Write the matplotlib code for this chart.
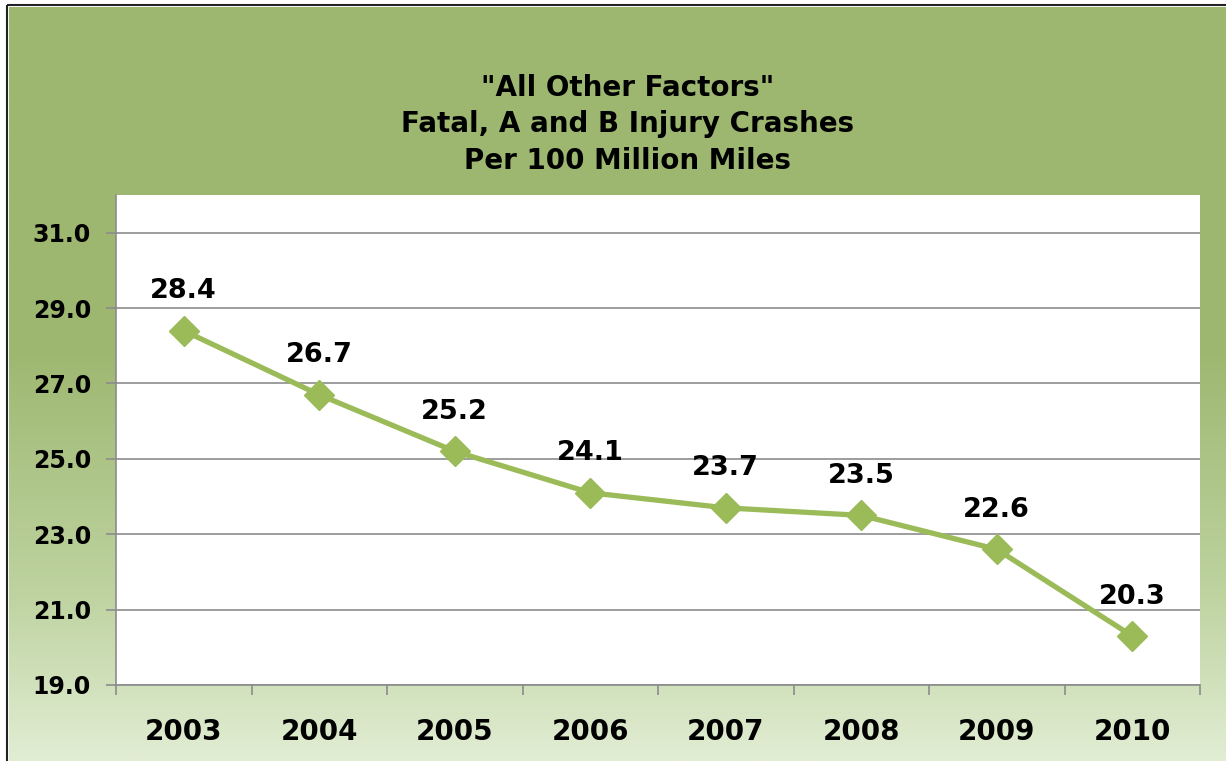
import numpy as np
import matplotlib
matplotlib.use('Agg')
import matplotlib.pyplot as plt
from matplotlib.colors import LinearSegmentedColormap
from matplotlib.patches import Rectangle

# 数据
years = ['2003', '2004', '2005', '2006', '2007', '2008', '2009', '2010']
rates = [28.4, 26.7, 25.2, 24.1, 23.7, 23.5, 22.6, 20.3]
y_ticks = [19.0, 21.0, 23.0, 25.0, 27.0, 29.0, 31.0]
title_lines = ['"All Other Factors"', 'Fatal, A and B Injury Crashes', 'Per 100 Million Miles']

line_color = '#9BBB59'
grid_color = '#8C8C8C'
W, H = 1226, 761

fig = plt.figure(figsize=(W / 100, H / 100), dpi=100)

# 背景渐变
bg = fig.add_axes([0, 0, 1, 1])
bg.set_xlim(0, W)
bg.set_ylim(H, 0)
bg.axis('off')
cmap = LinearSegmentedColormap.from_list(
    'bg', [(0.0, '#9DB770'), (0.45, '#9DB770'), (0.78, '#BED3A0'), (1.0, '#E1EDD3')])
grad = np.linspace(0, 1, 400).reshape(-1, 1)
bg.imshow(grad, cmap=cmap, extent=[9, W, H, 7], aspect='auto', zorder=0)
bg.add_patch(Rectangle((7, 5), W, H, fill=False, edgecolor='#222222', lw=1.5, zorder=1))

# 绘图区
ax = fig.add_axes([116 / W, 1 - 685 / H, (1200 - 116) / W, (685 - 195) / H])
ax.set_facecolor('white')
x = np.arange(1, len(years) + 1)
ax.plot(x, rates, color=line_color, lw=3.8, marker='D', ms=15, zorder=3)
for xi, v in zip(x, rates):
    ax.annotate('%.1f' % v, (xi, v), xytext=(0, 19), textcoords='offset points',
                ha='center', va='bottom', fontsize=19.5, fontweight='bold', color='black')

ax.set_xlim(0.5, len(years) + 0.5)
ax.set_ylim(19, 32)
ax.set_yticks(y_ticks)
ax.set_yticklabels(['%.1f' % t for t in y_ticks], fontsize=17, fontweight='bold')
ax.yaxis.grid(True, color=grid_color, lw=1.2)
ax.set_axisbelow(True)

ax.set_xticks(np.arange(0.5, len(years) + 1.5, 1))
ax.set_xticklabels([])
ax.set_xticks(x, minor=True)
ax.set_xticklabels(years, minor=True, fontsize=20, fontweight='bold')
ax.tick_params(axis='x', which='major', length=7, color=grid_color, width=1.2, direction='out')
ax.tick_params(axis='x', which='minor', length=0, pad=24)
ax.tick_params(axis='y', length=7, color=grid_color, width=1.2, pad=11)

for side in ['top', 'right']:
    ax.spines[side].set_visible(False)
for side in ['left', 'bottom']:
    ax.spines[side].set_color(grid_color)
    ax.spines[side].set_linewidth(1.2)

for i, t in enumerate(title_lines):
    fig.text(628 / W, 1 - (88 + 36.5 * i) / H, t, ha='center', va='center',
             fontsize=20, fontweight='bold')

fig.savefig('out.png', dpi=100)
